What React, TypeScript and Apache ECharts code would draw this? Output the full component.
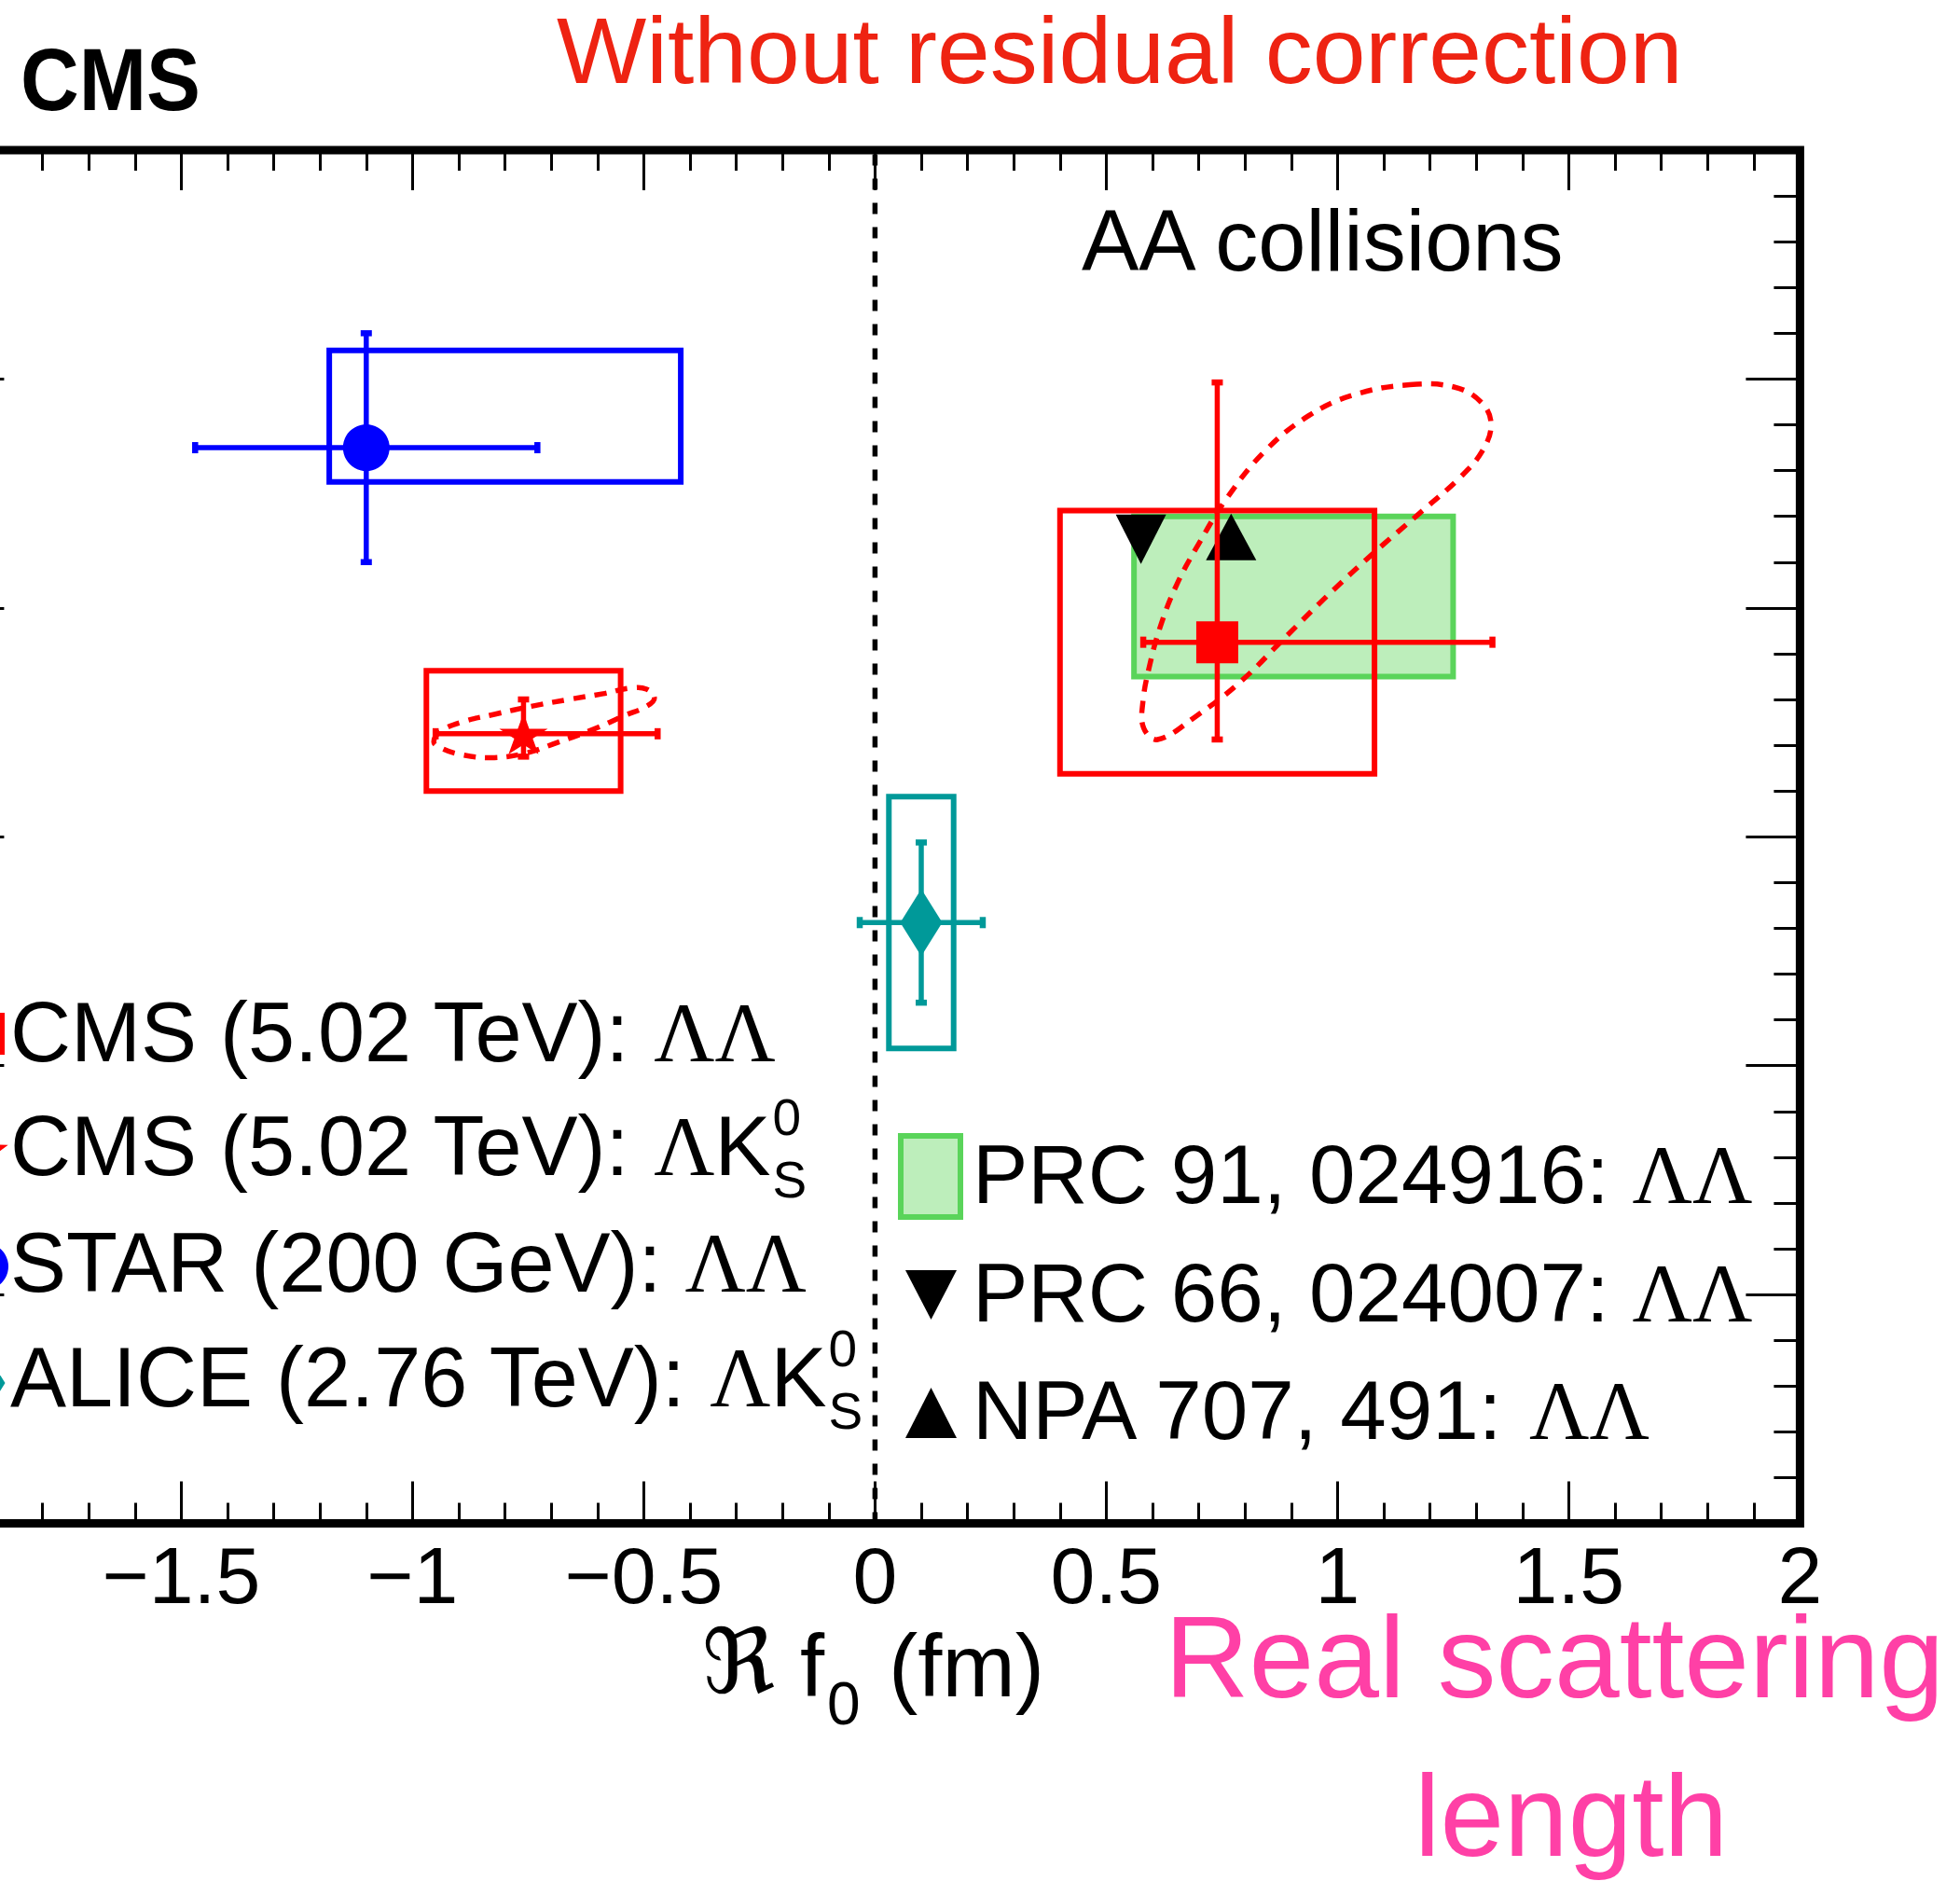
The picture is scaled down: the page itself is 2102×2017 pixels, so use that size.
import React, { useEffect, useRef } from 'react';
import * as echarts from 'echarts';

// ---------- measurements (Re f0, Im f0 in fm) ----------
// order: CMS ΛΛ, CMS ΛK0S, STAR ΛΛ, ALICE ΛK0S
const reF0 = [0.74, -0.76, -1.1, 0.1];
const imF0 = [0.77, 0.69, 0.94, 0.525];
const statReLo = [0.58, -0.95, -1.47, -0.033];
const statReHi = [1.335, -0.47, -0.73, 0.233];
const statImLo = [0.685, 0.67, 0.84, 0.455];
const statImHi = [0.997, 0.72, 1.04, 0.595];
const sysReLo = [0.4, -0.97, -1.18, 0.03];
const sysReHi = [1.08, -0.55, -0.42, 0.17];
const sysImLo = [0.655, 0.64, 0.91, 0.415];
const sysImHi = [0.885, 0.745, 1.025, 0.635];

// model predictions
const prc91Re = [0.56, 1.25];
const prc91Im = [0.74, 0.88];
const prc66 = [0.575, 0.86];
const npa707 = [0.77, 0.862];

// 68% contours of the CMS fits
const contourLL = [
  [1.156, 0.995], [1.252, 0.993], [1.31, 0.98], [1.332, 0.961], [1.313, 0.937],
  [1.265, 0.914], [1.184, 0.885], [1.081, 0.849], [0.979, 0.811], [0.884, 0.773],
  [0.789, 0.735], [0.693, 0.705], [0.611, 0.685], [0.581, 0.695], [0.579, 0.717],
  [0.594, 0.75], [0.618, 0.785], [0.652, 0.82], [0.7, 0.856], [0.761, 0.896],
  [0.843, 0.937], [0.938, 0.968], [1.034, 0.986],
];
const contourLK = [
  [-0.954, 0.683], [-0.938, 0.6925], [-0.8905, 0.7006], [-0.823, 0.707], [-0.743, 0.714],
  [-0.662, 0.72], [-0.588, 0.725], [-0.528, 0.73], [-0.494, 0.729], [-0.477, 0.721],
  [-0.494, 0.714], [-0.541, 0.706], [-0.608, 0.694], [-0.689, 0.682], [-0.756, 0.673],
  [-0.83, 0.669], [-0.897, 0.672], [-0.938, 0.6775],
];
const contours = [contourLL, contourLK];

const xTickValues = [-1.5, -1, -0.5, 0, 0.5, 1, 1.5, 2];
const xTickLabels = ['\u22121.5', '\u22121', '\u22120.5', '0', '0.5', '1', '1.5', '2'];

// ---------- styles ----------
const SANS = '"Liberation Sans", Arial, Helvetica, sans-serif';
const SERIF = '"Liberation Serif", "DejaVu Serif", serif';
const FRAK = '"DejaVu Serif", "DejaVu Sans", serif';
const RED = '#ff0000';
const markerColors = [RED, RED, '#0000ff', '#009999'];
const STAR_PATH =
  'path://M50 0L61.2 34.5L97.6 34.5L68.2 55.9L79.4 90.5L50 69.1L20.6 90.5L31.8 55.9L2.4 34.5L38.8 34.5Z';
const markerSymbols = ['rect', STAR_PATH, 'circle', 'diamond'];
const markerSizes = [[45, 45], [52, 44], [50, 50], [45, 72]];
const BAND_FILL = '#bdeebb';
const BAND_LINE = '#5ad45a';
const TITLE_RED = '#ee2312';
const PINK = '#ff40a6';

// the chart canvas starts left of the page so the frame's left edge sits just off-page
const OX = 100;
const PAGE_W = 2102;
const PAGE_H = 2017;

let measureCtx: CanvasRenderingContext2D | null = null;
function measure(text: string, size: number, family: string, weight = 'normal') {
  if (!measureCtx) measureCtx = document.createElement('canvas').getContext('2d');
  measureCtx!.font = `${weight} ${size}px ${family}`;
  return measureCtx!.measureText(text).width;
}

function txt(x: number, y: number, text: string, size: number, family: string, color: string, extra: any = {}) {
  const weight = extra.weight || 'normal';
  const el: any = {
    type: 'text',
    x,
    y,
    z: 100,
    style: {
      text,
      font: `${weight} ${size}px ${family}`,
      fill: color,
      textAlign: 'left',
      align: 'left',
      textVerticalAlign: 'middle',
      verticalAlign: 'middle',
      lineHeight: size,
    },
  };
  if (extra.width) {
    el.scaleX = extra.width / measure(text, size, family, weight);
  }
  return el;
}

function runLine(x0: number, yMid: number, parts: [string, number, string][], color: string) {
  const els: any[] = [];
  let x = x0;
  for (const [t, size, fam] of parts) {
    els.push(txt(x, yMid, t, size, fam, color));
    x += measure(t, size, fam);
  }
  return { els, end: x };
}

function starPoints(cx: number, cy: number, R: number, r: number) {
  const pts: number[][] = [];
  for (let k = 0; k < 10; k++) {
    const a = -Math.PI / 2 + (k * Math.PI) / 5;
    const rad = k % 2 === 0 ? R : r;
    pts.push([cx + rad * Math.cos(a), cy + rad * Math.sin(a)]);
  }
  return pts;
}

function buildGraphic() {
  const g: any[] = [];
  // experiment label and headline
  g.push(txt(22, 85, 'CMS', 94, SANS, '#000', { weight: 'bold', width: 193 }));
  g.push(txt(597, 54, 'Without residual correction', 100, SANS, TITLE_RED, { width: 1208 }));
  g.push(txt(1160, 258, 'AA collisions', 92, SANS, '#000'));

  // left legend
  const LS = 90;
  const leftRows: { y: number; parts: [string, number, string][]; k: boolean }[] = [
    { y: 1107, parts: [['CMS (5.02 TeV): ', LS, SANS], ['\u039b\u039b', LS, SERIF]], k: false },
    { y: 1229, parts: [['CMS (5.02 TeV): ', LS, SANS], ['\u039b', LS, SERIF], ['K', LS, SANS]], k: true },
    { y: 1354, parts: [['STAR (200 GeV): ', LS, SANS], ['\u039b\u039b', LS, SERIF]], k: false },
    { y: 1477, parts: [['ALICE (2.76 TeV): ', LS, SANS], ['\u039b', LS, SERIF], ['K', LS, SANS]], k: true },
  ];
  for (const row of leftRows) {
    const r = runLine(11, row.y, row.parts, '#000');
    g.push(...r.els);
    if (row.k) {
      g.push(txt(r.end + 2, row.y - 31, '0', 55, SANS, '#000'));
      g.push(txt(r.end + 2, row.y + 36, 'S', 55, SANS, '#000'));
    }
  }
  // left legend markers (mostly outside the visible page)
  g.push({ type: 'rect', z: 100, shape: { x: -40, y: 1086, width: 45, height: 45 }, style: { fill: RED } });
  g.push({ type: 'polygon', z: 100, shape: { points: starPoints(-17, 1236, 27, 11) }, style: { fill: RED } });
  g.push({ type: 'circle', z: 100, shape: { cx: -16, cy: 1358, r: 25 }, style: { fill: '#0000ff' } });
  g.push({
    type: 'polygon', z: 100,
    shape: { points: [[-17, 1447], [5.5, 1483], [-17, 1519], [-39.5, 1483]] },
    style: { fill: '#009999' },
  });

  // right legend
  const RS = 89;
  const rightRows: { y: number; parts: [string, number, string][] }[] = [
    { y: 1259, parts: [['PRC 91, 024916: ', RS, SANS], ['\u039b\u039b', RS, SERIF]] },
    { y: 1386, parts: [['PRC 66, 024007: ', RS, SANS], ['\u039b\u039b', RS, SERIF]] },
    { y: 1512, parts: [['NPA 707, 491: ', RS, SANS], ['\u039b\u039b', RS, SERIF]] },
  ];
  for (const row of rightRows) g.push(...runLine(1043, row.y, row.parts, '#000').els);
  g.push({
    type: 'rect', z: 100,
    shape: { x: 966, y: 1218, width: 64, height: 87 },
    style: { fill: BAND_FILL, stroke: BAND_LINE, lineWidth: 6 },
  });
  g.push({ type: 'polygon', z: 100, shape: { points: [[971, 1362], [1026, 1362], [998.5, 1415]] }, style: { fill: '#000' } });
  g.push({ type: 'polygon', z: 100, shape: { points: [[971, 1542], [1026, 1542], [998.5, 1488]] }, style: { fill: '#000' } });

  // x-axis title: ℜ f0 (fm)
  g.push(txt(753, 1782, '\u211c', 96, FRAK, '#000'));
  g.push(txt(858, 1786, 'f', 94, SANS, '#000'));
  g.push(txt(887, 1827, '0', 64, SANS, '#000'));
  g.push(txt(953, 1786, '(fm)', 94, SANS, '#000'));

  // annotation
  g.push(txt(1249, 1777, 'Real scattering', 124, SANS, PINK, { width: 836 }));
  g.push(txt(1517, 1947, 'length', 124, SANS, PINK, { width: 336 }));
  // shift from page coordinates into the (wider) chart canvas
  return [{ type: 'group', x: OX, y: 0, children: g }];
}

function boxRender(_p: any, api: any) {
  const i = api.value(4);
  const a = api.coord([api.value(0), api.value(3)]);
  const b = api.coord([api.value(1), api.value(2)]);
  return {
    type: 'rect',
    shape: { x: a[0], y: a[1], width: b[0] - a[0], height: b[1] - a[1] },
    style: { fill: 'none', stroke: markerColors[i], lineWidth: 6 },
  };
}

function bandRender(_p: any, api: any) {
  const a = api.coord([api.value(0), api.value(3)]);
  const b = api.coord([api.value(1), api.value(2)]);
  return {
    type: 'rect',
    shape: { x: a[0], y: a[1], width: b[0] - a[0], height: b[1] - a[1] },
    style: { fill: BAND_FILL, stroke: BAND_LINE, lineWidth: 6 },
  };
}

function errRender(_p: any, api: any) {
  const c = markerColors[api.value(6)];
  const p = api.coord([api.value(0), api.value(1)]);
  const l = api.coord([api.value(2), api.value(1)]);
  const r = api.coord([api.value(3), api.value(1)]);
  const lo = api.coord([api.value(0), api.value(4)]);
  const hi = api.coord([api.value(0), api.value(5)]);
  const st = { stroke: c, lineWidth: 5.5, fill: 'none' };
  const cs = { stroke: c, lineWidth: 6.5, fill: 'none' };
  const h = 6;
  return {
    type: 'group',
    children: [
      { type: 'line', shape: { x1: l[0], y1: p[1], x2: r[0], y2: p[1] }, style: st },
      { type: 'line', shape: { x1: p[0], y1: lo[1], x2: p[0], y2: hi[1] }, style: st },
      { type: 'line', shape: { x1: l[0], y1: p[1] - h, x2: l[0], y2: p[1] + h }, style: cs },
      { type: 'line', shape: { x1: r[0], y1: p[1] - h, x2: r[0], y2: p[1] + h }, style: cs },
      { type: 'line', shape: { x1: p[0] - h, y1: lo[1], x2: p[0] + h, y2: lo[1] }, style: cs },
      { type: 'line', shape: { x1: p[0] - h, y1: hi[1], x2: p[0] + h, y2: hi[1] }, style: cs },
    ],
  };
}

function contourRender(_p: any, api: any) {
  const pts = contours[api.value(2)].map((pt) => api.coord(pt));
  return {
    type: 'polygon',
    shape: { points: pts, smooth: 0.4 },
    style: { fill: 'none', stroke: RED, lineWidth: 5.5, lineDash: [13, 10] },
  };
}

function buildOption() {
  const tickStyle = { color: '#000', width: 3 };
  const xCommon = {
    type: 'value', min: -2, max: 2, interval: 0.5,
    axisLine: { show: false, onZero: false }, splitLine: { show: false }, minorSplitLine: { show: false },
  };
  const yCommon = {
    type: 'value', min: 0, max: 1.2, interval: 0.2,
    axisLine: { show: false, onZero: false }, splitLine: { show: false }, minorSplitLine: { show: false },
    axisLabel: { show: false },
    axisTick: { show: true, inside: true, length: 58, lineStyle: tickStyle },
    minorTick: { show: true, splitNumber: 5, length: 28, lineStyle: tickStyle },
  };
  const n = reF0.length;
  const idx = Array.from({ length: n }, (_, i) => i);
  return {
    animation: false,
    backgroundColor: '#ffffff',
    grid: {
      left: OX - 53.6, top: 161, width: 1984, height: 1472.5,
      show: true, borderColor: '#000', borderWidth: 9, backgroundColor: 'transparent',
    },
    xAxis: [
      {
        ...xCommon, position: 'bottom',
        axisTick: { show: true, inside: true, length: 45, lineStyle: tickStyle },
        minorTick: { show: true, splitNumber: 5, length: 22, lineStyle: tickStyle },
        axisLabel: {
          show: true, margin: 12, fontSize: 86, fontFamily: SANS, color: '#000',
          formatter: (v: number) => {
            const k = xTickValues.findIndex((t) => Math.abs(t - v) < 1e-6);
            return k >= 0 ? xTickLabels[k] : '';
          },
        },
      },
      {
        ...xCommon, position: 'top',
        axisTick: { show: true, inside: true, length: 43, lineStyle: tickStyle },
        minorTick: { show: true, splitNumber: 5, length: 22, lineStyle: tickStyle },
        axisLabel: { show: false },
      },
    ],
    yAxis: [
      { ...yCommon, position: 'left' },
      { ...yCommon, position: 'right' },
    ],
    series: [
      {
        type: 'custom', name: 'PRC 91, 024916', z: 1,
        renderItem: bandRender,
        encode: { x: [0, 1], y: [2, 3] },
        data: [[prc91Re[0], prc91Re[1], prc91Im[0], prc91Im[1]]],
      },
      {
        type: 'line', name: 'zero', z: 2, symbol: 'none', silent: true,
        lineStyle: { color: '#000', width: 5.5, type: [12, 14] },
        data: [[0, 0], [0, 1.2]],
      },
      {
        type: 'custom', name: 'sys', z: 3,
        renderItem: boxRender,
        encode: { x: [0, 1], y: [2, 3] },
        data: idx.map((i) => [sysReLo[i], sysReHi[i], sysImLo[i], sysImHi[i], i]),
      },
      {
        type: 'custom', name: 'contours', z: 4,
        renderItem: contourRender,
        encode: { x: 0, y: 1 },
        data: contours.map((c, i) => [c[0][0], c[0][1], i]),
      },
      {
        type: 'scatter', name: 'models', z: 5,
        itemStyle: { color: '#000', opacity: 1 },
        data: [
          { value: prc66, symbol: 'triangle', symbolRotate: 180, symbolSize: [54, 53] },
          { value: npa707, symbol: 'triangle', symbolSize: [54, 50] },
        ],
      },
      {
        type: 'custom', name: 'stat', z: 6,
        renderItem: errRender,
        encode: { x: [0, 2, 3], y: [1, 4, 5] },
        data: idx.map((i) => [reF0[i], imF0[i], statReLo[i], statReHi[i], statImLo[i], statImHi[i], i]),
      },
      {
        type: 'scatter', name: 'measurements', z: 7,
        itemStyle: { opacity: 1 },
        data: idx.map((i) => ({
          value: [reF0[i], imF0[i]],
          symbol: markerSymbols[i],
          symbolSize: markerSizes[i],
          itemStyle: { color: markerColors[i], opacity: 1 },
        })),
      },
    ],
    graphic: buildGraphic(),
  };
}

export default function App() {
  const ref = useRef<HTMLDivElement>(null);
  useEffect(() => {
    if (!ref.current) return;
    const chart = echarts.init(ref.current, null, { renderer: 'svg' });
    chart.setOption(buildOption() as any);
    return () => chart.dispose();
  }, []);
  return (
    <div style={{ position: 'absolute', left: 0, top: 0, width: PAGE_W, height: PAGE_H, overflow: 'hidden', background: '#ffffff' }}>
      <div
        ref={ref}
        style={{ position: 'absolute', left: -OX, top: 0, width: PAGE_W + OX, height: PAGE_H }}
      />
    </div>
  );
}
